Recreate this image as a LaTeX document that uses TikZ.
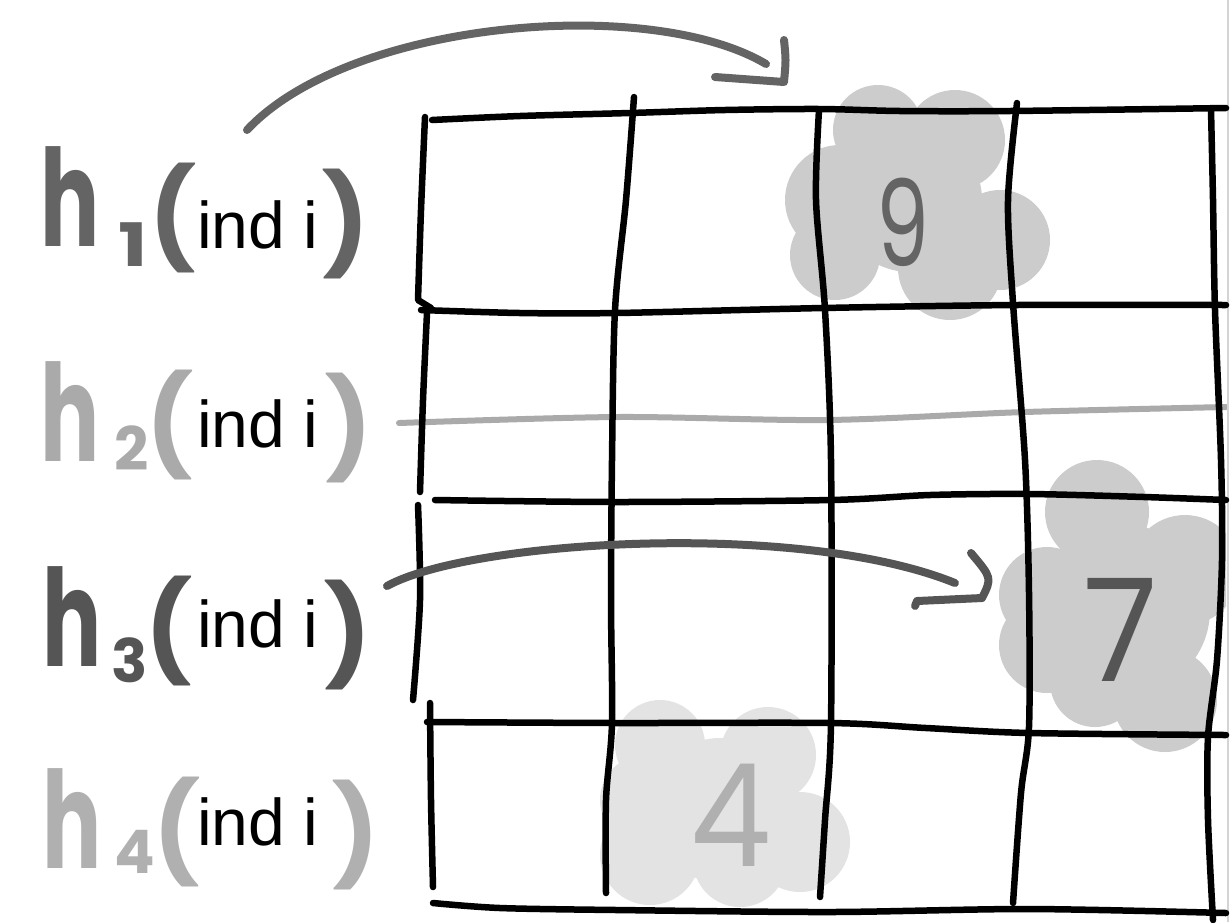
\documentclass[tikz,border=0pt]{standalone}
\usepackage{fontspec}
\setmainfont{Liberation Sans}
\newfontfamily\hand{Poppins}
\definecolor{ink1}{HTML}{646464}
\definecolor{ink2}{HTML}{AAAAAA}
\definecolor{ink3}{HTML}{555555}
\definecolor{ink4}{HTML}{B0B0B0}
\definecolor{blob}{HTML}{CCCCCC}
\definecolor{blobl}{HTML}{E3E3E3}
\definecolor{edge}{HTML}{D4D4D4}
\begin{document}
\begin{tikzpicture}[x=1pt,y=-1pt,
  grid/.style={line width=6.5pt, line cap=round, line join=round, black},
  ink/.style={line width=8pt, line cap=round, line join=round},
  lbl/.style={inner sep=0pt, outer sep=0pt, font=\fontsize{66}{66}\selectfont, anchor=base west, black},
  glyph/.style={inner sep=0pt, outer sep=0pt},
  hh/.style={glyph, font=\hand\bfseries\fontsize{135}{135}\selectfont},
  sub/.style={glyph, font=\hand\bfseries\fontsize{60}{60}\selectfont},
  par/.style={glyph, font=\hand\bfseries\fontsize{98}{98}\selectfont},
  big/.style={glyph, font=\hand\fontsize{#1}{#1}\selectfont},
]
\useasboundingbox (0,0) rectangle (1230,922);
\fill[white] (0,0) rectangle (1230,922);

% highlighted cells
\begin{scope}
\clip (0,0) rectangle (1226,922);
\fill[blob] (878,130) circle (45pt) (955,140) circle (50pt) (840,200) circle (55pt)
  (835,255) circle (45pt) (950,268) circle (52pt) (1000,240) circle (50pt) (910,200) circle (72pt);
\fill[blob] (1097,512) circle (52pt) (1185,570) circle (55pt) (1047,595) circle (48pt)
  (1047,645) circle (48pt) (1095,682) circle (45pt) (1165,700) circle (52pt) (1125,610) circle (85pt);
\fill[blobl] (660,745) circle (45pt) (768,755) circle (48pt) (800,842) circle (50pt)
  (650,855) circle (50pt) (740,860) circle (47pt) (720,810) circle (72pt) (645,800) circle (45pt);
\end{scope}

% struck-through row
\draw[line width=6pt, ink2, line cap=round] plot[smooth] coordinates {(399,423) (617,417) (827,420) (1025,412) (1226,407)};

% right border of the sheet
\draw[edge, line width=2pt] (1228,0) -- (1228,922);

% grid: rows
\draw[grid] plot[smooth, tension=0.5] coordinates {(432,120) (520,116) (630,113) (725,110) (820,109) (900,111) (1010,111) (1226,108)};
\draw[grid] plot[smooth, tension=0.5] coordinates {(421,310) (520,313) (617,313) (823,308) (1017,305) (1226,305)};
\draw[grid] plot[smooth, tension=0.5] coordinates {(435,500) (617,502) (831,500) (930,495) (1029,494) (1144,497) (1226,500)};
\draw[grid] plot[smooth, tension=0.5] coordinates {(427,722) (617,723) (831,723) (926,728) (1029,733) (1226,735)};
\draw[grid] plot[smooth, tension=0.5] coordinates {(433,903) (500,908) (617,910) (831,912) (1029,909) (1226,913)};
% grid: columns
\draw[grid] plot[smooth, tension=0.5] coordinates {(425,117) (421,210) (418,300)} -- (431,308);
\draw[grid] plot[smooth, tension=0.5] coordinates {(427,313) (423,400) (420,492)};
\draw[grid] plot[smooth, tension=0.5] coordinates {(418,505) (420,600) (413,700)};
\draw[grid] plot[smooth, tension=0.5] coordinates {(430,703) (431,800) (433,887)};
\draw[grid] plot[smooth, tension=0.5] coordinates {(634,97) (626,200) (615,310) (612,460) (611,600) (612,723) (606,800) (606,893)};
\draw[grid] plot[smooth, tension=0.5] coordinates {(819,110) (816,200) (825,310) (831,460) (831,723) (825,820) (820,897)};
\draw[grid] plot[smooth, tension=0.5] coordinates {(1017,103) (1008,200) (1013,303) (1025,460) (1029,593) (1029,727) (1021,793) (1013,903)};
\draw[grid] plot[smooth, tension=0.5] coordinates {(1211,110) (1213,200) (1215,310) (1221,460) (1222,560) (1217,660) (1208,737) (1208,820) (1213,920)};

% cell values
\node[big=120, text=ink1] (v9) at (903,222) {\scalebox{0.7}[1]{9}};
\node[big=143, text=ink3] (v7) at (1121,630) {\scalebox{0.95}[1]{7}};
\node[big=143, text=ink4] (v4) at (731,815) {\scalebox{0.9}[1]{4}};

% row labels
\node[hh, text=ink1] (h1) at (70,197) {\scalebox{0.65}[1]{h}};
\node[sub, text=ink1] (s1) at (133,245) {\scalebox{1.3}[1]{1}};
\node[par, text=ink1] (o1) at (173,218) {(};
\node[lbl] (t1) at (197,248) {ind i};
\node[par, text=ink1] (c1) at (346,224) {)};

\node[hh, text=ink2] (h2) at (70,412) {\scalebox{0.65}[1]{h}};
\node[sub, text=ink2] (s2) at (132,448) {2};
\node[par, text=ink2] (o2) at (170,425) {(};
\node[lbl] (t2) at (197,447) {ind i};
\node[par, text=ink2] (c2) at (349,428) {)};

\node[hh, text=ink3] (h3) at (72,617) {\scalebox{0.65}[1]{h}};
\node[sub, text=ink3] (s3) at (130,660) {3};
\node[par, text=ink3] (o3) at (169,631) {(};
\node[lbl] (t3) at (197,647) {ind i};
\node[par, text=ink3] (c3) at (348,635) {)};

\node[hh, text=ink4] (h4) at (72,819) {\scalebox{0.65}[1]{h}};
\node[sub, text=ink4] (s4) at (135,852) {4};
\node[par, text=ink4] (o4) at (177,832) {(};
\node[lbl] (t4) at (197,845) {ind i};
\node[par, text=ink4] (c4) at (356,835) {)};

% arrow from h1 to its cell
\coordinate (a1s) at (247,130);
\coordinate (a1e) at (766,64);
\coordinate (a1t) at (784,82);
\draw[ink, ink1] (a1s) .. controls (350,20) and (650,-5) .. (a1e);
\draw[ink, ink1] (715,77) .. controls (750,79) .. (a1t) .. controls (786,60) .. (784,40);

% arrow from h3 to its cell
\coordinate (a3s) at (387,586);
\coordinate (a3e) at (955,583);
\coordinate (a3t) at (982,598);
\draw[ink, ink3] (a3s) .. controls (470,540) and (800,520) .. (a3e);
\draw[ink, ink3] (915,606) -- (917,601) .. controls (950,599) .. (a3t) .. controls (992,578) .. (971,553);
\end{tikzpicture}
\end{document}
